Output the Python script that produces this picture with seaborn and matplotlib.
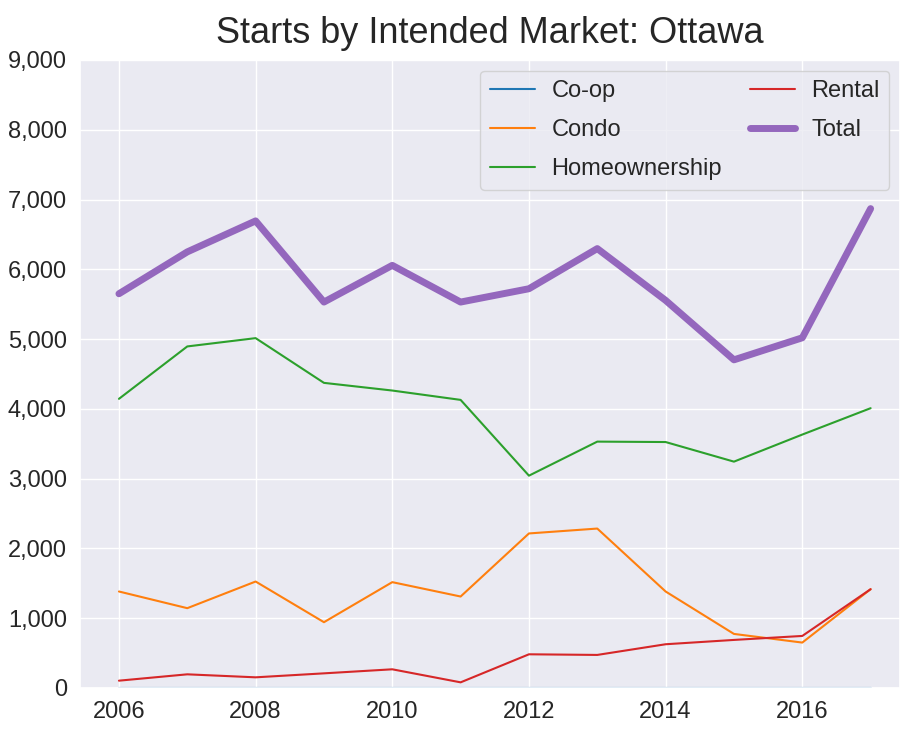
import numpy as np
import pandas as pd
import matplotlib
matplotlib.use("Agg")
import matplotlib.pyplot as plt
import matplotlib.ticker as mticker
import seaborn as sns

# data
years = [2006, 2007, 2008, 2009, 2010, 2011, 2012, 2013, 2014, 2015, 2016, 2017]
coop = [0, 0, 0, 0, 0, 0, 0, 0, 0, 0, 0, 0]
condo = [1383, 1144, 1526, 943, 1517, 1311, 2215, 2285, 1383, 775, 651, 1416]
homeownership = [4144, 4895, 5014, 4373, 4263, 4129, 3043, 3531, 3525, 3244, 3632, 4010]
rental = [105, 196, 153, 210, 268, 81, 483, 474, 627, 689, 746, 1416]
total = [5650, 6250, 6694, 5531, 6057, 5531, 5722, 6297, 5555, 4703, 5019, 6870]

series_names = ["Co-op", "Condo", "Homeownership", "Rental", "Total"]
series_vals = [coop, condo, homeownership, rental, total]
colors = ["#1f77b4", "#ff7f0e", "#2ca02c", "#d62728", "#9467bd"]

sns.set_theme(style="darkgrid")
plt.rcParams['font.family'] = ['Liberation Sans', 'DejaVu Sans']

fig = plt.figure(figsize=(9, 7.31), dpi=100)
ax = fig.add_axes([80 / 900, 43 / 731, 820 / 900, 628 / 731])

for name, vals, c in zip(series_names, series_vals, colors):
    df = pd.DataFrame({"year": years, "starts": vals})
    lw = 5 if name == "Total" else 1.5
    sns.lineplot(data=df, x="year", y="starts", ax=ax, color=c,
                 linewidth=lw, label=name)

# right side of the original is cut off a bit
ax.set_xlim(2005.43, 2017.43)
ax.set_ylim(0, 9000)
ax.yaxis.set_major_locator(mticker.MultipleLocator(1000))
ax.yaxis.set_major_formatter(mticker.StrMethodFormatter("{x:,.0f}"))
ax.set_xticks([2006, 2008, 2010, 2012, 2014, 2016])
ax.set_xlabel("")
ax.set_ylabel("")
ax.tick_params(labelsize=17)

ax.legend(loc="upper right", ncol=2, fontsize=17, frameon=True,
          labelspacing=0.72, handlelength=1.9, handletextpad=0.7,
          columnspacing=1.2, borderaxespad=0.45)
ax.set_title("Starts by Intended Market: Ottawa", fontsize=26, pad=12)

fig.savefig("out.png", dpi=100)
